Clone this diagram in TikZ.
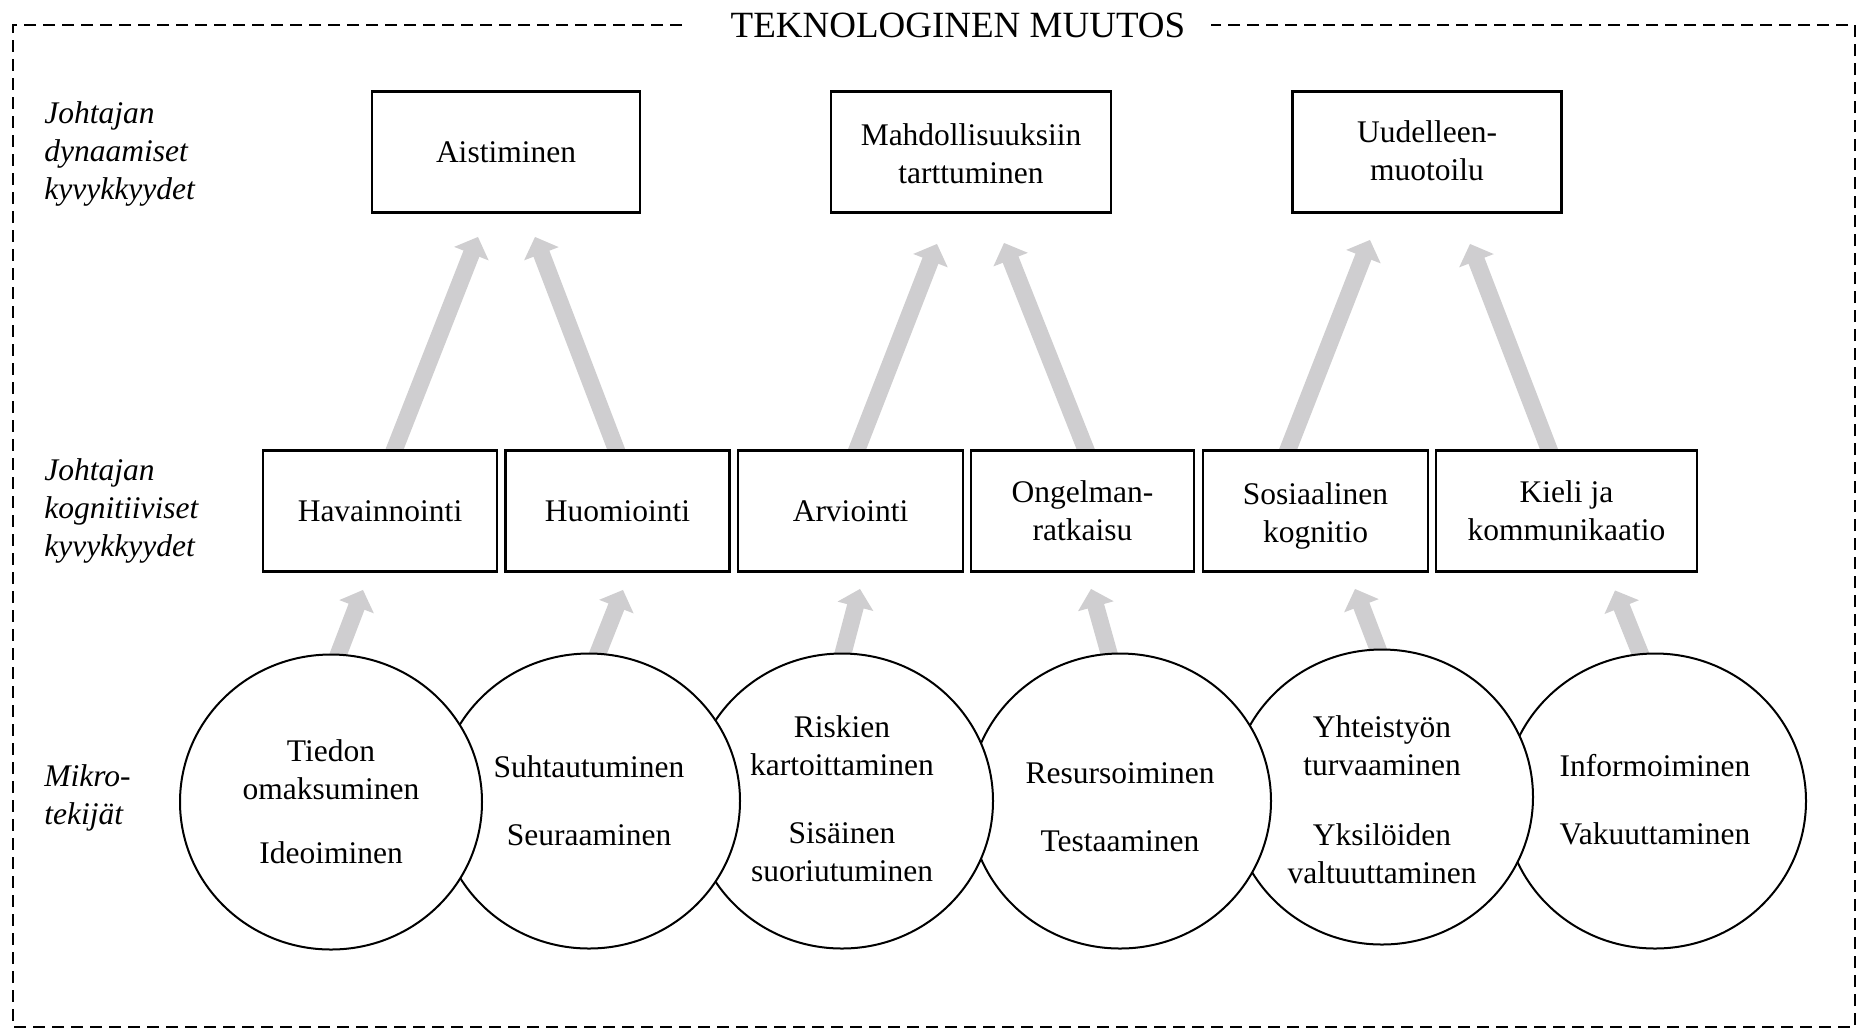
\documentclass[tikz,border=0pt]{standalone}
\usepackage{fontspec}
\setmainfont{Liberation Serif}
\usetikzlibrary{shapes.geometric,arrows.meta,calc}
\pgfdeclarelayer{bg}
\pgfsetlayers{bg,main}
\definecolor{arrowgray}{RGB}{207,206,208}
\newcommand{\myshift}[2]{\raisebox{#1}[\height][\depth]{\begin{tabular}{@{}c@{}}#2\end{tabular}}}
\begin{document}
\begin{tikzpicture}[x=0.5pt,y=-0.5pt,
  txt/.style={font=\fontsize{15.75}{19}\selectfont},
  box/.style={txt,draw,line width=1.4pt,fill=white,inner sep=0pt,align=center,minimum height=60.5pt},
  micro/.style={txt,draw,ellipse,line width=1pt,fill=white,inner sep=0pt,align=center,minimum width=151pt,minimum height=147.5pt},
  upar/.style={draw=arrowgray,line width=8.5pt,-{Triangle[length=9pt,width=18pt]}},
  lbl/.style={anchor=west,align=left,inner sep=0pt,font=\fontsize{15.75}{19}\selectfont\itshape},
  frame/.style={dash pattern=on 6pt off 3.5pt,line width=1pt}
]
\useasboundingbox (0,0) rectangle (1858,1030);

% frame and title
\draw[frame] (682,25) -- (13,25) -- (13,1027) -- (1855,1027) -- (1855,25) -- (1211,25);
\node[font=\fontsize{18.5}{22}\selectfont,inner sep=0pt] (title) at (958,25) {TEKNOLOGINEN MUUTOS};

% row labels
\node[lbl] (l1) at (44,154) {Johtajan\\dynaamiset\\kyvykkyydet};
\node[lbl] (l2) at (44,511) {Johtajan\\kognitiiviset\\kyvykkyydet};
\node[lbl] (l3) at (44,798) {Mikro-\\tekijät};

% dynamic capabilities
\node[box,minimum width=134pt] (ais) at (506,152) {Aistiminen};
\node[box,minimum width=140pt] (mah) at (971,152) {\myshift{-2.5pt}{Mahdollisuuksiin\\tarttuminen}};
\node[box,minimum width=134.5pt] (uud) at (1427,152) {\myshift{-0.8pt}{Uudelleen-\\muotoilu}};

% cognitive capabilities
\node[box,minimum width=117pt] (hav) at (380,511) {Havainnointi};
\node[box,minimum width=112pt] (huo) at (617.5,511) {Huomiointi};
\node[box,minimum width=112.5pt] (arv) at (850.5,511) {Arviointi};
\node[box,minimum width=111.5pt] (ong) at (1082.5,511) {Ongelman-\\ratkaisu};
\node[box,minimum width=112.5pt] (sos) at (1315.5,511) {\myshift{-2.5pt}{Sosiaalinen\\kognitio}};
\node[box,minimum width=130.5pt] (kie) at (1566.5,511) {Kieli ja\\kommunikaatio};

% micro factors (right to left so that each overlaps the next)
\node[micro] (m6) at (1655,801) {\myshift{-0.8pt}{Informoiminen\\[15pt]Vakuuttaminen}};
\node[micro] (m5) at (1382,797) {\myshift{-3pt}{Yhteistyön\\turvaaminen\\[16pt]Yksilöiden\\valtuuttaminen}};
\node[micro] (m4) at (1120,801) {\myshift{-4.5pt}{Resursoiminen\\[15pt]Testaaminen}};
\node[micro] (m3) at (842,801) {\myshift{-0.5pt}{Riskien\\kartoittaminen\\[15pt]Sisäinen\\suoriutuminen}};
\node[micro] (m2) at (589,801) {\myshift{-1.5pt}{Suhtautuminen\\[15pt]Seuraaminen}};
\node[micro] (m1) at (331,802) {Tiedon\\omaksuminen\\[13pt]Ideoiminen};

\begin{pgfonlayer}{bg}
% micro -> cognitive
\draw[upar] ($(m1.north)+(0,20)$) -- ($(hav.south)+(-17,17)$);
\draw[upar] ($(m2.north)+(1.5,19.5)$) -- ($(huo.south)+(5.5,17)$);
\draw[upar] ($(m3.north)+(-4,20)$) -- ($(arv.south)+(9.5,16)$);
\draw[upar] ($(m4.north)+(-5.6,20)$) -- ($(ong.south)+(8.5,16)$);
\draw[upar] ($(m5.north)+(3,19)$) -- ($(sos.south)+(39.5,16)$);
\draw[upar] ($(m6.north)+(-7.5,19)$) -- ($(kie.south)+(48.5,17.5)$);
% cognitive -> dynamic
\draw[upar] ($(hav.north)+(6,22)$) -- ($(ais.south)+(-28,23)$);
\draw[upar] ($(huo.north)+(7,22)$) -- ($(ais.south)+(29,23)$);
\draw[upar] ($(arv.north)+(-1.5,21)$) -- ($(mah.south)+(-34,30)$);
\draw[upar] ($(ong.north)+(11.5,21)$) -- ($(mah.south)+(33,29)$);
\draw[upar] ($(sos.north)+(-35.5,21)$) -- ($(uud.south)+(-57,26)$);
\draw[upar] ($(kie.north)+(-9.5,21)$) -- ($(uud.south)+(43,30)$);
\end{pgfonlayer}
\end{tikzpicture}
\end{document}
